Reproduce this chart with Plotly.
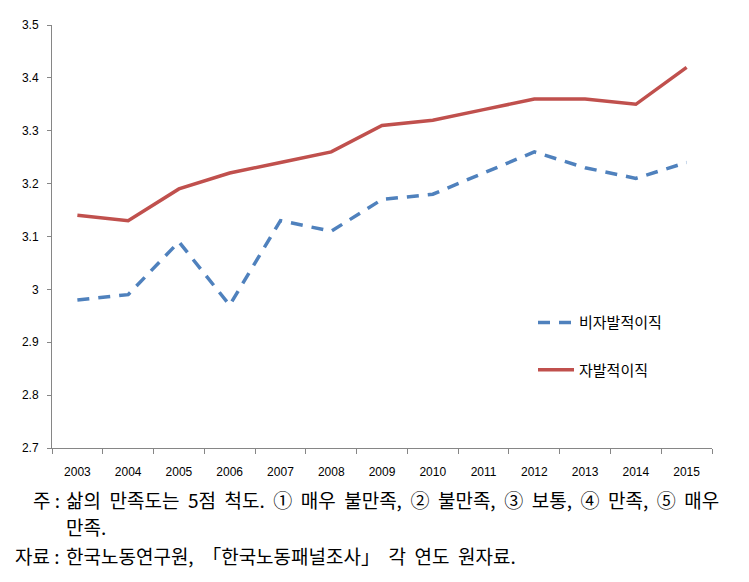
import plotly.graph_objects as go

# data
YEARS = [str(y) for y in range(2003, 2016)]
INVOLUNTARY = [2.98, 2.99, 3.09, 2.97, 3.13, 3.11, 3.17, 3.18, 3.22, 3.26, 3.23, 3.21, 3.24]
VOLUNTARY = [3.14, 3.13, 3.19, 3.22, 3.24, 3.26, 3.31, 3.32, 3.34, 3.36, 3.36, 3.35, 3.42]
Y_TICKS = [2.7, 2.8, 2.9, 3.0, 3.1, 3.2, 3.3, 3.4, 3.5]
Y_TICK_TEXT = ["2.7", "2.8", "2.9", "3", "3.1", "3.2", "3.3", "3.4", "3.5"]

NOTE_LINES = [
    ("주 :", "삶의 만족도는 5점 척도. ① 매우 불만족, ② 불만족, ③ 보통, ④ 만족, ⑤ 매우"),
    ("", "만족."),
    ("자료 :", "한국노동연구원, 「한국노동패널조사」 각 연도 원자료."),
]

KR_FONT = "Noto Sans CJK KR"
AXIS_FONT = "Liberation Sans Narrow, Liberation Sans, sans-serif"

# the page body has an 8px margin, so the figure is a bit smaller than the window
OFF = 8
W, H = 749 - OFF, 582 - OFF
# plot area in window pixels: x 52..712, y 18..448
L = 52 - OFF
T = 18 - OFF
R = W - (712 - OFF)
B = H - (448 - OFF)
plot_w = W - L - R
plot_h = H - T - B


def px_x(x):
    return (x - OFF - L) / plot_w


def px_y(y):
    return (H - B - (y - OFF)) / plot_h


def wide(s):
    # widen word gaps a little, like the justified original
    return s.replace(" ", "\u00a0\u00a0")


fig = go.Figure()
fig.add_trace(
    go.Scatter(
        x=YEARS,
        y=INVOLUNTARY,
        mode="lines",
        name="비자발적이직",
        line=dict(color="#4F81BD", width=3.5, dash="12px,9px"),
        legend="legend",
    )
)
fig.add_trace(
    go.Scatter(
        x=YEARS,
        y=VOLUNTARY,
        mode="lines",
        name="자발적이직",
        line=dict(color="#C0504D", width=3.5),
        legend="legend2",
    )
)

fig.update_xaxes(
    type="category",
    range=[-0.5, len(YEARS) - 0.5],
    tickson="boundaries",
    ticks="outside",
    ticklen=5,
    tickcolor="#868686",
    showline=True,
    linecolor="#868686",
    linewidth=1,
    showgrid=False,
    ticklabelstandoff=13,
    tickfont=dict(family=AXIS_FONT, size=12, color="#000000"),
    fixedrange=True,
)
fig.update_yaxes(
    range=[2.7, 3.5],
    tickvals=Y_TICKS,
    ticktext=Y_TICK_TEXT,
    ticks="outside",
    ticklen=4,
    tickcolor="#868686",
    showline=True,
    linecolor="#868686",
    linewidth=1,
    showgrid=False,
    zeroline=False,
    ticklabelstandoff=6,
    tickfont=dict(family=AXIS_FONT, size=12, color="#000000"),
    fixedrange=True,
)

# footnotes under the chart
note_y = [500, 528, 557]
for (label, text), y in zip(NOTE_LINES, note_y):
    if label:
        fig.add_annotation(
            xref="paper", yref="paper", x=px_x(62), y=px_y(y),
            text=label, showarrow=False, xanchor="right", yanchor="middle",
            font=dict(family=KR_FONT, size=19, color="#000000"),
        )
    fig.add_annotation(
        xref="paper", yref="paper", x=px_x(64), y=px_y(y),
        text=wide(text), showarrow=False, xanchor="left", yanchor="middle",
        font=dict(family=KR_FONT, size=19, color="#000000"),
    )

legend_style = dict(
    xanchor="left",
    yanchor="top",
    bgcolor="rgba(0,0,0,0)",
    font=dict(family=KR_FONT, size=15, color="#000000"),
    itemwidth=36,
)

fig.update_layout(
    width=W,
    height=H,
    margin=dict(l=L, r=R, t=T, b=B),
    paper_bgcolor="white",
    plot_bgcolor="white",
    showlegend=True,
    legend=dict(x=px_x(533), y=px_y(304), **legend_style),
    legend2=dict(x=px_x(533), y=px_y(352), **legend_style),
)

fig.write_html("out.html")
